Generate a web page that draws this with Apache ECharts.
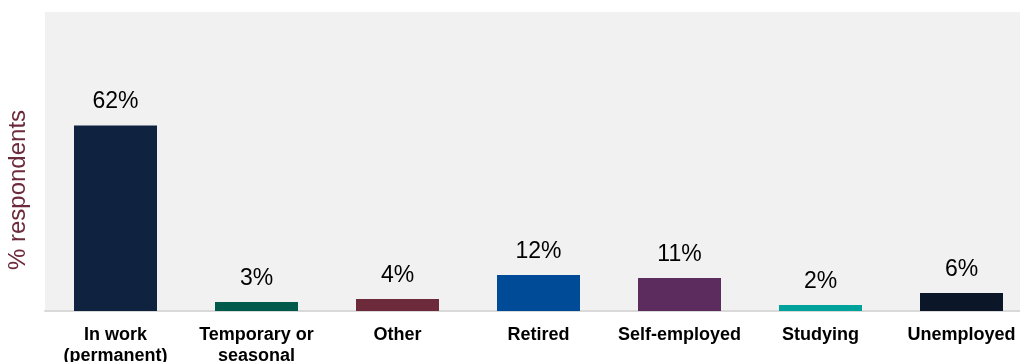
<!DOCTYPE html>
<html>
<head>
<meta charset="utf-8">
<style>
  html, body { margin: 0; padding: 0; background: #ffffff; }
  #chart { width: 1020px; height: 362px; }
</style>
<script src="https://cdn.jsdelivr.net/npm/echarts@6/dist/echarts.min.js"></script>
</head>
<body>
<div id="chart"></div>
<script>
// Employment status of respondents
const categories = [
  'In work\n(permanent)',
  'Temporary or\nseasonal',
  'Other',
  'Retired',
  'Self-employed',
  'Studying',
  'Unemployed'
];
const shares = [62, 3, 4, 12, 11, 2, 6];
const barColors = ['#0f2340', '#005a4b', '#6c2a3b', '#004b98', '#5c2c5f', '#00a39b', '#0b1628'];
const axisTitle = '% respondents';

const font = '"Liberation Sans", Arial, sans-serif';

const chart = echarts.init(document.getElementById('chart'), null, { renderer: 'canvas' });

chart.setOption({
  animation: false,
  grid: {
    left: 45,
    top: 12,
    width: 987,
    height: 299,
    outerBoundsMode: 'none',
    show: true,
    backgroundColor: '#f1f1f1',
    borderWidth: 0
  },
  xAxis: {
    type: 'category',
    data: categories,
    axisLine: { show: true, lineStyle: { color: '#d9d9d9', width: 2 } },
    axisTick: { show: false },
    axisLabel: {
      interval: 0,
      margin: 14,
      color: '#000000',
      fontFamily: font,
      fontSize: 18,
      fontWeight: 'bold',
      lineHeight: 21
    }
  },
  yAxis: {
    type: 'value',
    min: 0,
    max: 100,
    show: false,
    splitLine: { show: false }
  },
  series: [{
    type: 'bar',
    barWidth: 83,
    data: shares.map((v, i) => ({ value: v, itemStyle: { color: barColors[i] } })),
    label: {
      show: true,
      position: 'top',
      distance: 12,
      formatter: p => p.value + '%',
      color: '#000000',
      fontFamily: font,
      fontSize: 23
    }
  }],
  graphic: [{
    type: 'text',
    x: 18,
    y: 190,
    rotation: Math.PI / 2,
    style: {
      text: axisTitle,
      fill: '#6c2a3b',
      font: '24px ' + font,
      align: 'center',
      verticalAlign: 'middle'
    }
  }]
});
</script>
</body>
</html>
